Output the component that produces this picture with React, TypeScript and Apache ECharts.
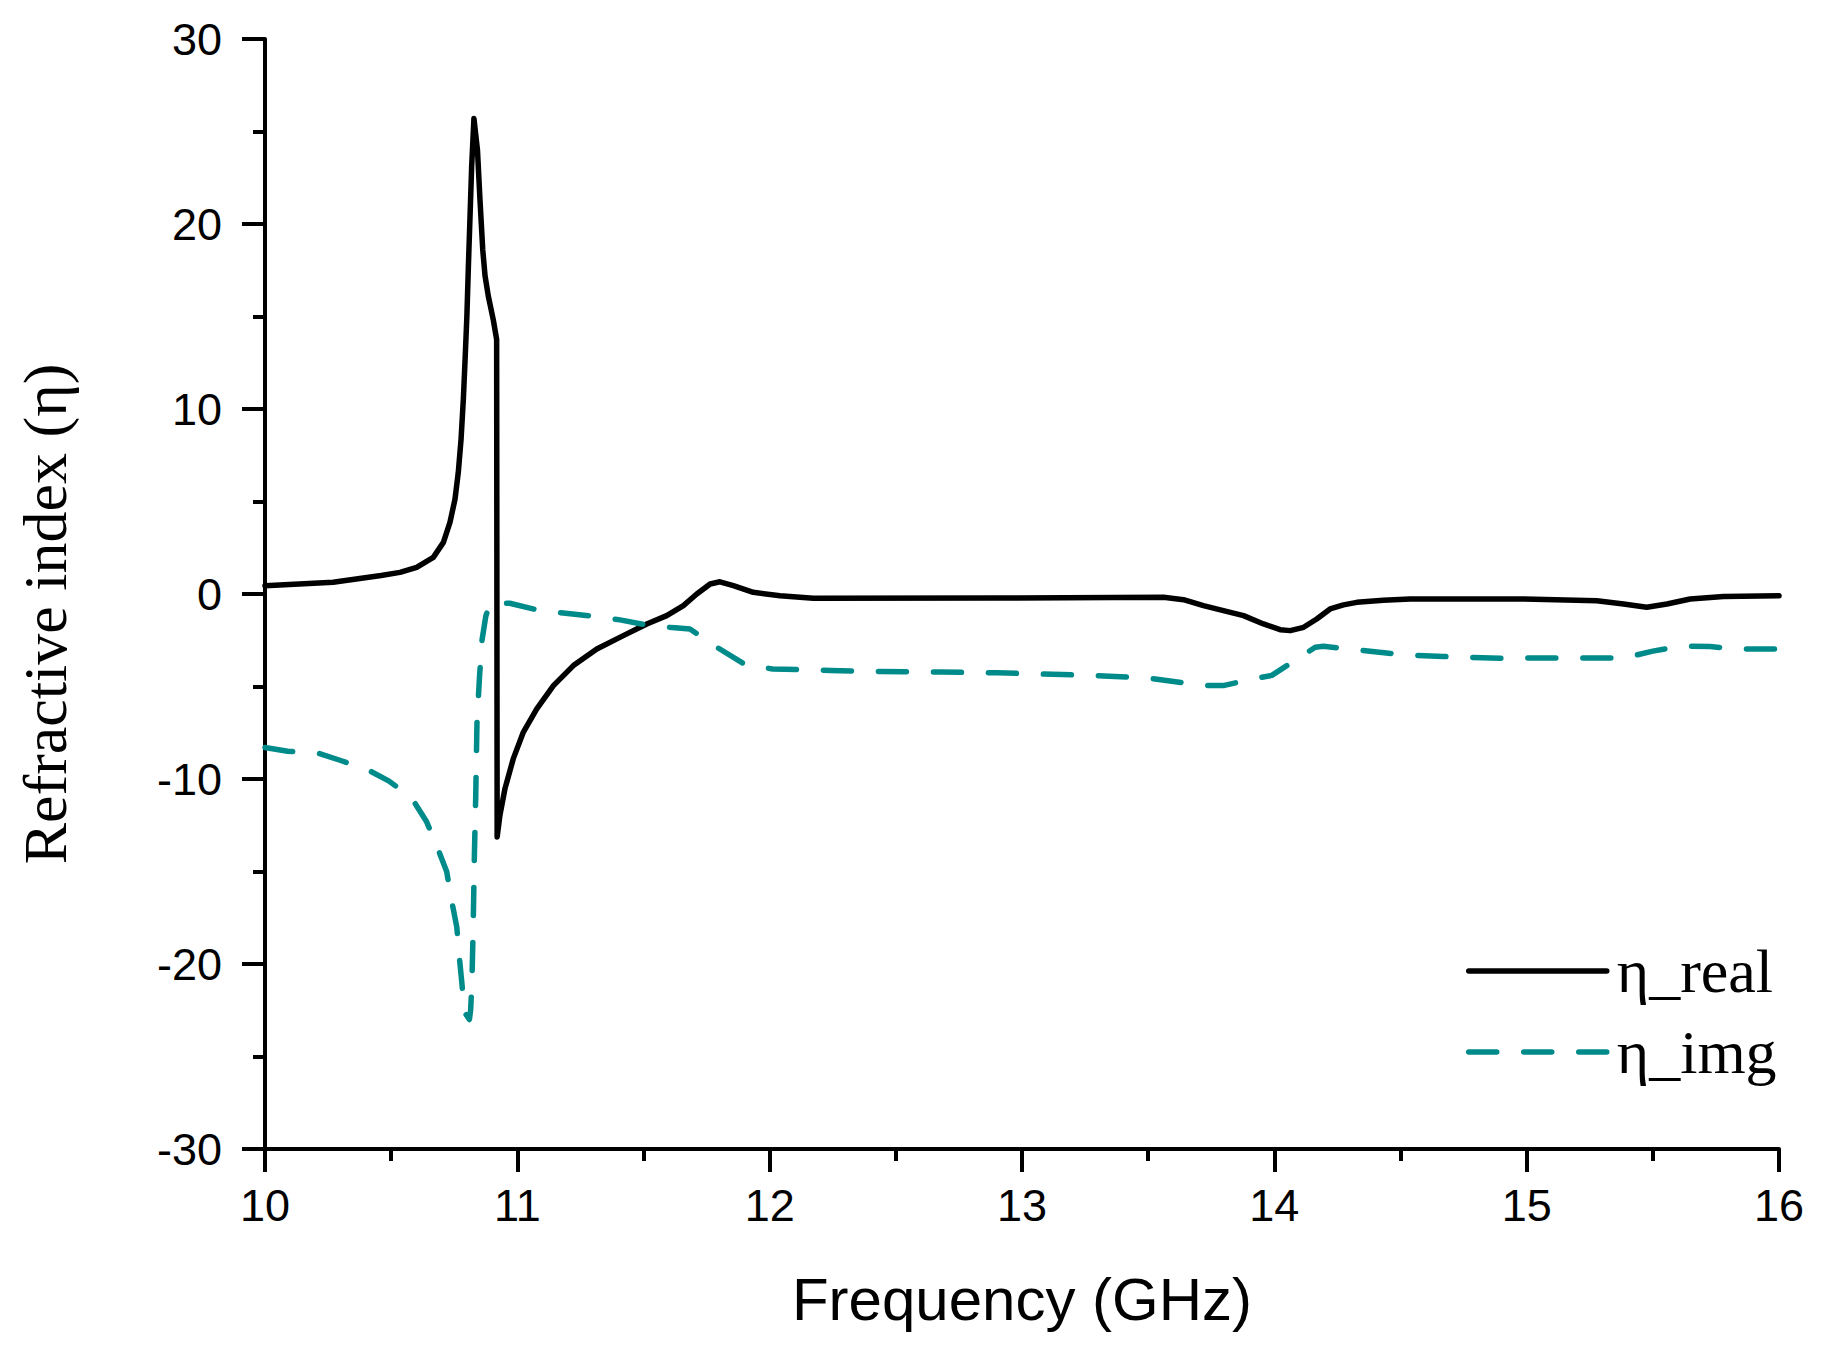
import React, { useEffect, useRef } from "react";
import * as echarts from "echarts";

// Frequency (GHz) and values for eta_real
const realFreq = [
  10.0, 10.27, 10.46, 10.535, 10.601, 10.667, 10.707, 10.733, 10.753, 10.766, 10.777, 10.786,
  10.793, 10.8, 10.806, 10.8125, 10.819, 10.828, 10.842, 10.852, 10.863, 10.872, 10.885, 10.905,
  10.918, 10.92, 10.931, 10.951, 10.984, 11.024, 11.077, 11.143, 11.222, 11.315, 11.42, 11.513,
  11.592, 11.658, 11.711, 11.764, 11.803, 11.856, 11.935, 12.041, 12.173, 12.9, 13.561, 13.64,
  13.719, 13.798, 13.878, 13.957, 14.023, 14.063, 14.116, 14.168, 14.221, 14.274, 14.327, 14.432,
  14.538, 14.723, 14.987, 15.278, 15.384, 15.476, 15.556, 15.648, 15.78, 16.0,
];
const realValues = [
  0.45, 0.63, 1.0, 1.17, 1.44, 1.98, 2.79, 3.87, 5.13, 6.57, 8.36, 10.52,
  12.68, 15.0, 17.7, 20.4, 23.1, 25.7, 24.0, 21.3, 18.6, 17.2, 16.1, 14.8,
  13.76, -13.13, -11.96, -10.52, -8.9, -7.46, -6.21, -4.95, -3.87, -2.97, -2.25, -1.62,
  -1.17, -0.63, 0.0, 0.54, 0.66, 0.45, 0.09, -0.09, -0.23, -0.22, -0.18, -0.31,
  -0.63, -0.9, -1.17, -1.62, -1.93, -1.98, -1.8, -1.35, -0.81, -0.59, -0.45, -0.34,
  -0.27, -0.27, -0.27, -0.36, -0.54, -0.72, -0.54, -0.27, -0.13, -0.09,
];

// Frequency (GHz) and values for eta_img
const imgFreq = [
  10.0, 10.09, 10.21, 10.3, 10.4, 10.49, 10.58, 10.64, 10.686, 10.72, 10.74, 10.76, 10.77, 10.78,
  10.79, 10.81, 10.815, 10.82, 10.825, 10.83, 10.835, 10.84, 10.85, 10.86, 10.875, 10.892, 10.97,
  11.09, 11.182, 11.3, 11.407, 11.526, 11.625, 11.684, 11.797, 11.909, 12.012, 12.127, 12.24,
  12.345, 12.675, 12.9, 13.28, 13.495, 13.719, 13.798, 13.93, 13.99, 14.162, 14.195, 14.294,
  14.512, 14.67, 14.895, 15.12, 15.384, 15.5, 15.608, 15.727, 15.82, 16.0,
];
const imgValues = [
  -8.3, -8.5, -8.6, -9.0, -9.45, -10.1, -11.0, -12.3, -13.8, -15.0, -16.6, -18.0, -19.6, -21.0,
  -22.6, -23.0, -22.5, -21.0, -18.0, -14.0, -11.0, -7.0, -4.5, -2.5, -1.2, -0.49, -0.5,
  -0.9, -1.03, -1.2, -1.4, -1.71, -1.83, -1.89, -2.93, -3.87, -4.05, -4.08, -4.13,
  -4.17, -4.22, -4.26, -4.4, -4.53, -4.95, -4.95, -4.55, -4.4, -2.88, -2.83, -2.97,
  -3.29, -3.38, -3.47, -3.46, -3.46, -3.09, -2.82, -2.84, -2.97, -2.97,
];

const seriesNames = ["η_real", "η_img"];
const xTitle = "Frequency (GHz)";
const yTitle = "Refractive index (η)";

const sans = "'Liberation Sans', Arial, sans-serif";
const serif = "'Liberation Serif', 'Times New Roman', serif";

export default function App() {
  const ref = useRef<HTMLDivElement>(null);

  useEffect(() => {
    document.body.style.margin = "0";
    if (!ref.current) return;
    const chart = echarts.init(ref.current, undefined, { renderer: "svg" });

    const axisCommon = {
      axisLine: { onZero: false, lineStyle: { color: "#000", width: 4 } },
      axisTick: { show: true, inside: false, length: 23, lineStyle: { color: "#000", width: 4 } },
      minorTick: { show: true, splitNumber: 2, length: 12, lineStyle: { color: "#000", width: 4 } },
      splitLine: { show: false },
      minorSplitLine: { show: false },
    };

    chart.setOption({
      animation: false,
      backgroundColor: "#fff",
      grid: { left: 265, top: 39, width: 1514, height: 1110, containLabel: false },
      xAxis: {
        type: "value",
        min: 10,
        max: 16,
        interval: 1,
        ...axisCommon,
        axisLabel: { color: "#000", fontSize: 45, fontFamily: sans, margin: 34 },
        name: xTitle,
        nameLocation: "middle",
        nameGap: 120,
        nameTextStyle: { color: "#000", fontSize: 60, fontFamily: sans },
      },
      yAxis: {
        type: "value",
        min: -30,
        max: 30,
        interval: 10,
        ...axisCommon,
        axisLabel: { color: "#000", fontSize: 45, fontFamily: sans, margin: 43 },
        name: yTitle,
        nameLocation: "middle",
        nameGap: 189,
        nameRotate: 90,
        nameTextStyle: { color: "#000", fontSize: 62, fontFamily: serif, padding: [0, 40, 0, 0] },
      },
      legend: {
        orient: "vertical",
        left: 1461,
        top: 935,
        itemWidth: 138,
        itemHeight: 14,
        itemGap: 19,
        data: seriesNames,
        itemStyle: { opacity: 0 },
        lineStyle: { width: 5.5, cap: "round" },
        textStyle: {
          color: "#000",
          fontSize: 62,
          lineHeight: 62,
          fontFamily: serif,
          padding: [0, 0, 0, 5],
        },
      },
      series: [
        {
          name: seriesNames[0],
          type: "line",
          data: realFreq.map((f, i) => [f, realValues[i]]),
          showSymbol: false,
          symbol: "none",
          lineStyle: { color: "#000", width: 5.5, cap: "round", join: "round" },
          itemStyle: { color: "#000" },
        },
        {
          name: seriesNames[1],
          type: "line",
          data: imgFreq.map((f, i) => [f, imgValues[i]]),
          showSymbol: false,
          symbol: "none",
          lineStyle: { color: "#008B8B", width: 5.5, type: [28, 27], cap: "round", join: "round" },
          itemStyle: { color: "#008B8B" },
        },
      ],
    });

    return () => chart.dispose();
  }, []);

  return <div ref={ref} style={{ width: 1825, height: 1353 }} />;
}
